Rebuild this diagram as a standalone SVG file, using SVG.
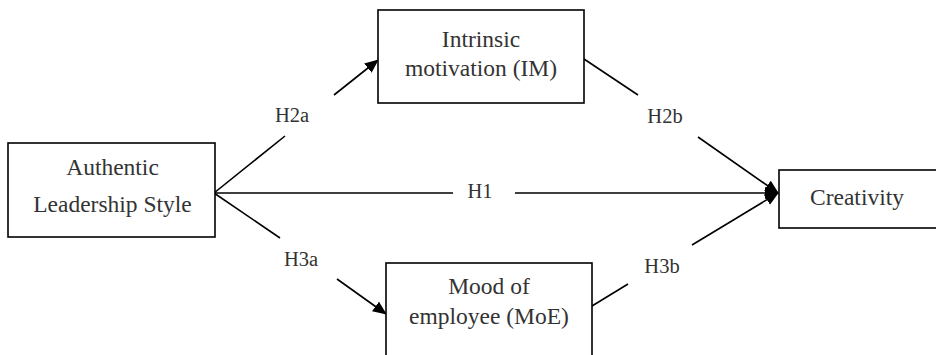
<svg xmlns="http://www.w3.org/2000/svg" width="936" height="355" viewBox="0 0 936 355">
<defs>
<style>
.box{fill:#fff;stroke:#000;stroke-width:1.6}
.t{font-size:23.5px;fill:#333;text-anchor:middle}
.l{font-size:20.5px;fill:#333;text-anchor:middle}
.c{stroke:#000;stroke-width:1.6;fill:none}
</style>
<marker id="ah" markerUnits="userSpaceOnUse" markerWidth="14" markerHeight="12" refX="13" refY="6" orient="auto">
<path d="M0,0 L14,6 L0,12 z" fill="#000"/>
</marker>
</defs>
<rect width="936" height="355" fill="#fff"/>
<g font-family="Liberation Serif, DejaVu Serif, serif">
<g id="connectors">
<line class="c" x1="214" y1="193" x2="285" y2="136"/>
<line class="c" x1="334" y1="95" x2="378" y2="60" marker-end="url(#ah)"/>
<line class="c" x1="214" y1="193" x2="280" y2="238"/>
<line class="c" x1="337" y1="279" x2="386" y2="314" marker-end="url(#ah)"/>
<line class="c" x1="584" y1="59" x2="638" y2="95"/>
<line class="c" x1="698" y1="137" x2="778" y2="193" marker-end="url(#ah)"/>
<line class="c" x1="592" y1="306" x2="628" y2="284"/>
<line class="c" x1="692" y1="245" x2="778" y2="193" marker-end="url(#ah)"/>
<line class="c" x1="214" y1="193" x2="453" y2="193"/>
<line class="c" x1="515" y1="193" x2="778" y2="193" marker-end="url(#ah)"/>
<text class="l" x="292" y="122">H2a</text>
<text class="l" x="665" y="123">H2b</text>
<text class="l" x="301" y="266">H3a</text>
<text class="l" x="662" y="273">H3b</text>
<text class="l" x="480" y="198">H1</text>
</g>
<g id="authentic">
<rect class="box" x="8" y="143" width="207" height="94"/>
<text class="t" x="112.5" y="175">Authentic</text>
<text class="t" x="112.5" y="212">Leadership Style</text>
</g>
<g id="intrinsic">
<rect class="box" x="378" y="10" width="206" height="93"/>
<text class="t" x="481" y="47">Intrinsic</text>
<text class="t" x="481" y="76">motivation (IM)</text>
</g>
<g id="mood">
<rect class="box" x="386" y="263" width="206" height="100"/>
<text class="t" x="489" y="294">Mood of</text>
<text class="t" x="489" y="324">employee (MoE)</text>
</g>
<g id="creativity">
<rect class="box" x="779" y="170" width="170" height="58"/>
<text class="t" x="857" y="205">Creativity</text>
</g>
</g>
</svg>
